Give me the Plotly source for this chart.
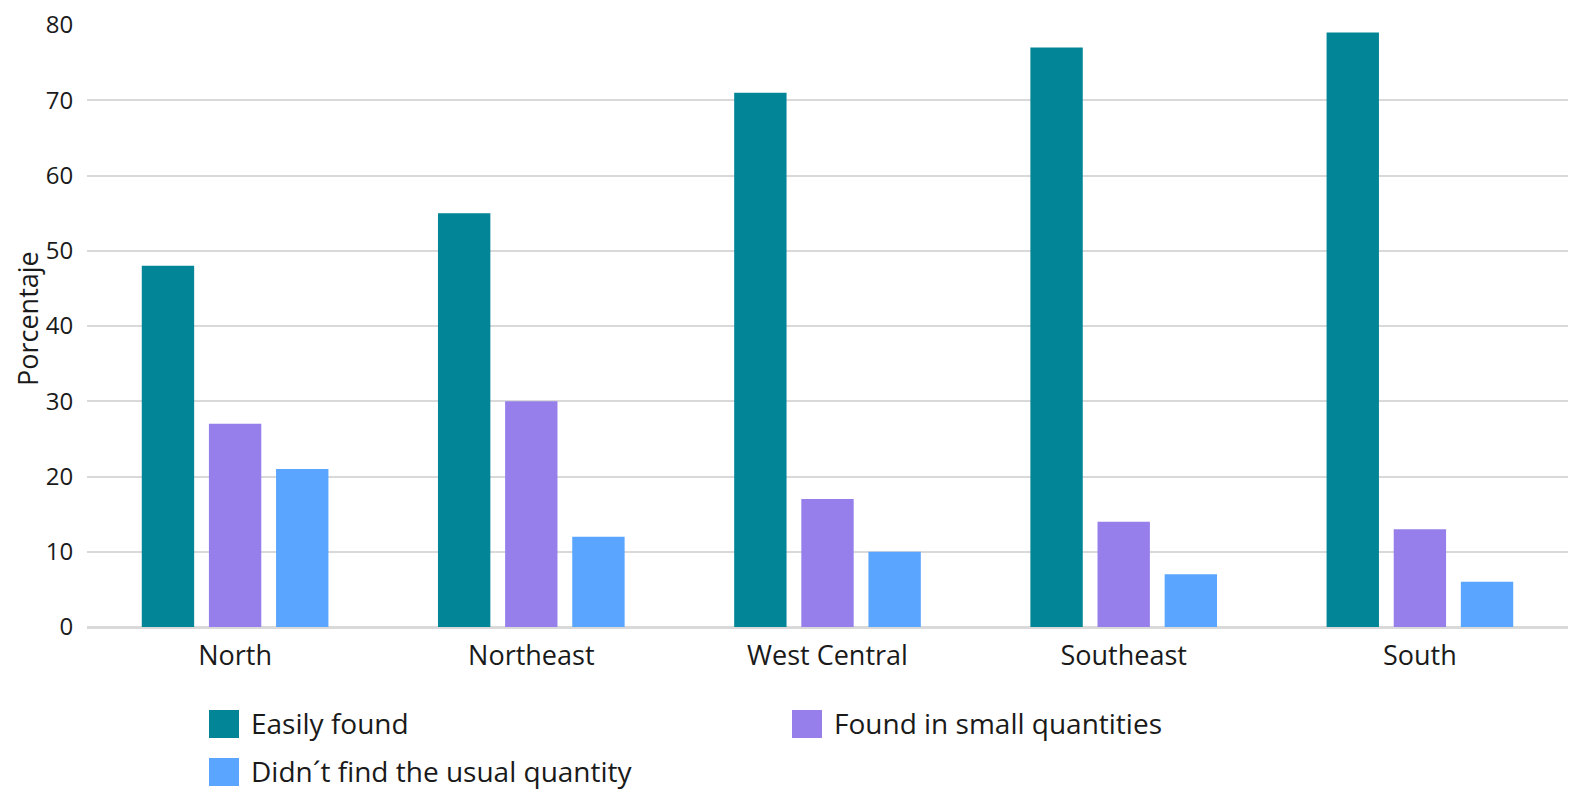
import plotly.graph_objects as go

# Regional availability survey (percent of respondents)
regions = ["North", "Northeast", "West Central", "Southeast", "South"]
series_names = ["Easily found", "Found in small quantities", "Didn´t find the usual quantity"]
easily_found = [48, 55, 71, 77, 79]
small_quantities = [27, 30, 17, 14, 13]
not_usual_quantity = [21, 12, 10, 7, 6]
y_ticks = [0, 10, 20, 30, 40, 50, 60, 70, 80]
y_title = "Porcentaje"

colors = ["#028596", "#967EEB", "#59A5FF"]
font_family = "'Open Sans', Lato, sans-serif"
text_color = "#1a1a1a"

W, H = 1576, 792
M_L, M_R, M_T, M_B = 87, 8, 25, 165
plot_w = W - M_L - M_R
plot_h = H - M_T - M_B


def px_to_paper(px, py):
    """Convert a page pixel position into paper coordinates of the plot area."""
    return (px - M_L) / plot_w, (H - M_B - py) / plot_h


fig = go.Figure()
for name, values, color in zip(series_names,
                               [easily_found, small_quantities, not_usual_quantity],
                               colors):
    fig.add_trace(go.Bar(
        x=regions, y=values, name=name,
        marker=dict(color=color, line=dict(width=0)),
        showlegend=False,
    ))

# Legend drawn as square swatches with labels, two columns
legend_slots = [(209, 710), (792, 710), (209, 758)]
shapes = []
annotations = []
for (sx, sy), name, color in zip(legend_slots, series_names, colors):
    x0, y1 = px_to_paper(sx, sy)
    x1, y0 = px_to_paper(sx + 30, sy + 28)
    shapes.append(dict(type="rect", xref="paper", yref="paper",
                       x0=x0, x1=x1, y0=y0, y1=y1,
                       fillcolor=color, line=dict(width=0)))
    tx, ty = px_to_paper(sx + 40, sy + 13)
    annotations.append(dict(xref="paper", yref="paper", x=tx, y=ty,
                            xanchor="left", yanchor="middle", showarrow=False,
                            text=name, font=dict(size=28, color=text_color,
                                                 family=font_family)))

# Vertical y-axis title at the left edge
tx, ty = px_to_paper(27, 319)
annotations.append(dict(xref="paper", yref="paper", x=tx, y=ty,
                        xanchor="center", yanchor="middle", showarrow=False,
                        textangle=-90, text=y_title,
                        font=dict(size=27, color=text_color, family=font_family)))

fig.update_layout(
    width=W, height=H,
    margin=dict(l=M_L, r=M_R, t=M_T, b=M_B, pad=0),
    paper_bgcolor="white", plot_bgcolor="white",
    barmode="group", bargap=0.32, bargroupgap=0.22,
    font=dict(family=font_family, color=text_color, size=24),
    shapes=shapes, annotations=annotations,
    xaxis=dict(
        showgrid=False, showline=False, zeroline=False,
        ticks="outside", ticklen=5, tickcolor="rgba(0,0,0,0)",
        tickfont=dict(size=27, color=text_color),
    ),
    yaxis=dict(
        range=[0, 80], tickvals=y_ticks, ticktext=[str(v) for v in y_ticks],
        showgrid=True, gridcolor="#d9d9d9", gridwidth=2,
        zeroline=True, zerolinecolor="#d9d9d9", zerolinewidth=3,
        showline=False,
        ticks="outside", ticklen=8, tickcolor="rgba(0,0,0,0)",
        tickfont=dict(size=24, color=text_color),
    ),
)

fig.write_html("out.html")
